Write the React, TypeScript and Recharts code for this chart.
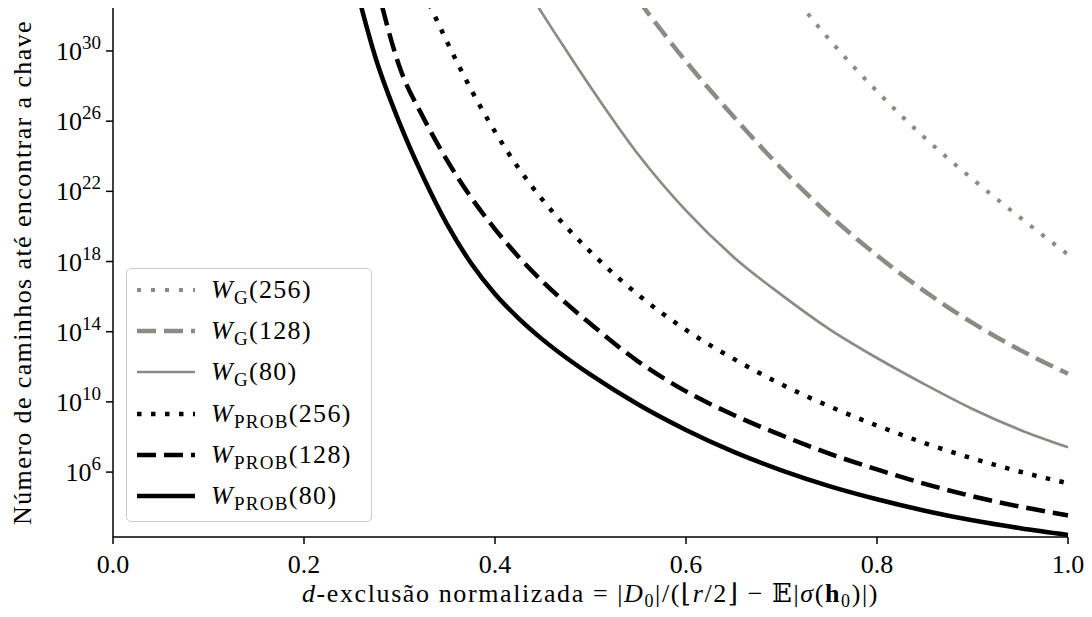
import React from 'react';
import { LineChart, Line, XAxis, YAxis, Legend } from 'recharts';

const FONT = '"Liberation Serif", "DejaVu Serif", serif';
const GRAY = '#8b8b86';

// normalised d-exclusion (x axis)
const dValues = [0.25, 0.275, 0.3, 0.325, 0.35, 0.375, 0.4, 0.425, 0.45, 0.475, 0.5, 0.55, 0.6, 0.65, 0.7, 0.75, 0.8, 0.85, 0.9, 0.95, 1.0];

// log10 of the number of paths (null = far above the top)
const expG256 = [null, null, null, null, null, null, null, null, null, null, null, null, null, null, 34.0, 30.66, 27.7, 25.05, 22.7, 20.5, 18.4];
const expG128 = [null, null, null, null, null, null, null, null, null, null, null, 32.9, 29.4, 26.25, 23.3, 20.65, 18.35, 16.3, 14.5, 12.95, 11.6];
const expG80 = [null, null, null, null, null, null, null, 34.3, 32.1, 30.0, 27.95, 24.1, 20.9, 18.25, 16.1, 14.15, 12.5, 11.0, 9.6, 8.4, 7.41];
const expProb256 = [null, null, null, 33.4, 30.5, 27.8, 25.4, 23.3, 21.5, 19.95, 18.55, 16.1, 14.1, 12.45, 11.0, 9.75, 8.65, 7.65, 6.78, 6.02, 5.36];
const expProb128 = [null, 34.0, 29.1, 26.2, 23.75, 21.65, 19.85, 18.25, 16.85, 15.6, 14.45, 12.3, 10.6, 9.25, 8.1, 7.05, 6.15, 5.33, 4.62, 4.03, 3.53];
const expProb80 = [34.6, 29.6, 25.9, 22.8, 20.1, 17.9, 16.15, 14.75, 13.55, 12.5, 11.55, 9.85, 8.4, 7.15, 6.1, 5.2, 4.45, 3.8, 3.25, 2.8, 2.42];

const xTicks = [0, 0.2, 0.4, 0.6, 0.8, 1.0];
const yTickExps = [6, 10, 14, 18, 22, 26, 30];

const series = [
  { key: 'g256', sub: 'G', n: '256', exps: expG256, color: GRAY, width: 4, dash: '4 10' },
  { key: 'g128', sub: 'G', n: '128', exps: expG128, color: GRAY, width: 4.5, dash: '19 8' },
  { key: 'g80', sub: 'G', n: '80', exps: expG80, color: GRAY, width: 2.7, dash: undefined },
  { key: 'p256', sub: 'PROB', n: '256', exps: expProb256, color: '#000', width: 4.5, dash: '4.5 9.5' },
  { key: 'p128', sub: 'PROB', n: '128', exps: expProb128, color: '#000', width: 4.5, dash: '19 8' },
  { key: 'p80', sub: 'PROB', n: '80', exps: expProb80, color: '#000', width: 4.5, dash: undefined },
];

const chartData = dValues.map((d, i) => {
  const row: any = { d };
  series.forEach(s => {
    const e = s.exps[i];
    row[s.key] = e == null ? null : Math.pow(10, e);
  });
  return row;
});

const yDomain = [Math.pow(10, 2.3), Math.pow(10, 32.45)];
const yTicks = yTickExps.map(e => Math.pow(10, e));

const textStyle = { fontFamily: FONT, fill: '#000' };

function PowerTick({ x, y, payload }: any) {
  const exp = Math.round(Math.log10(payload.value));
  return (
    <text x={x} y={y + 9} textAnchor="end" style={{ ...textStyle, fontSize: 26 }}>
      10<tspan style={{ fontSize: 19 }} dy={-11}>{exp}</tspan>
    </text>
  );
}

function DTick({ x, y, payload }: any) {
  return (
    <text x={x} y={y + 27} textAnchor="middle" style={{ ...textStyle, fontSize: 26 }}>
      {payload.value.toFixed(1)}
    </text>
  );
}

function XTitle({ viewBox }: any) {
  const cx = viewBox.x + viewBox.width / 2;
  return (
    <text x={cx} y={viewBox.y + 65} textAnchor="middle" style={{ ...textStyle, fontSize: 26, letterSpacing: 1.6 }}>
      <tspan style={{ fontStyle: 'italic' }}>d</tspan>
      <tspan>-exclusão normalizada = |</tspan>
      <tspan style={{ fontStyle: 'italic' }}>D</tspan>
      <tspan style={{ fontSize: 18 }} dy={5}>0</tspan>
      <tspan dy={-5}>|/(⌊</tspan>
      <tspan style={{ fontStyle: 'italic' }}>r</tspan>
      <tspan>/2⌋ − 𝔼|</tspan>
      <tspan style={{ fontStyle: 'italic' }}>σ</tspan>
      <tspan>(</tspan>
      <tspan style={{ fontWeight: 'bold' }}>h</tspan>
      <tspan style={{ fontSize: 18 }} dy={5}>0</tspan>
      <tspan dy={-5}>)|)</tspan>
    </text>
  );
}

function YTitle({ viewBox }: any) {
  const cy = viewBox.y + viewBox.height / 2;
  return (
    <text
      x={31}
      y={cy}
      transform={`rotate(-90, 31, ${cy})`}
      textAnchor="middle"
      style={{ ...textStyle, fontSize: 26, letterSpacing: 1.4 }}
    >
      Número de caminhos até encontrar a chave
    </text>
  );
}

function LegendBox() {
  return (
    <div
      style={{
        border: '1px solid #cccccc',
        borderRadius: 5,
        background: 'rgba(255,255,255,0.8)',
        width: 246,
        height: 254,
        boxSizing: 'border-box',
        padding: '0 0 0 10px',
        fontFamily: FONT,
        fontSize: 26,
        color: '#000',
        lineHeight: 1,
      }}
    >
      {series.map(s => (
        <div key={s.key} style={{ display: 'flex', alignItems: 'center', height: 41.3 }}>
          <svg width={58} height={12} style={{ display: 'block' }}>
            <line x1={0} y1={6} x2={58} y2={6} stroke={s.color} strokeWidth={s.width} strokeDasharray={s.dash} />
          </svg>
          <span style={{ marginLeft: 16, whiteSpace: 'nowrap', letterSpacing: 1.3 }}>
            <i>W</i>
            <span style={{ fontSize: 19, position: 'relative', top: 6 }}>{s.sub}</span>({s.n})
          </span>
        </div>
      ))}
    </div>
  );
}

export default function App() {
  return (
    <div style={{ position: 'absolute', left: 0, top: 0, width: 1092, height: 617, background: '#fff' }}>
      <LineChart width={1092} height={617} data={chartData} margin={{ top: 8, right: 24, bottom: 0, left: 0 }}>
        <XAxis
          dataKey="d"
          type="number"
          domain={[0, 1]}
          ticks={xTicks}
          height={80}
          tick={<DTick />}
          tickSize={7}
          tickMargin={2}
          axisLine={{ stroke: '#000', strokeWidth: 1.5 }}
          tickLine={{ stroke: '#000', strokeWidth: 1.5 }}
          label={{ content: XTitle }}
        />
        <XAxis xAxisId="top" orientation="top" type="number" domain={[0, 1]} height={0} tick={false} tickLine={false} axisLine={{ stroke: '#000', strokeWidth: 1.5 }} />
        <YAxis
          type="number"
          scale="log"
          domain={yDomain}
          allowDataOverflow
          ticks={yTicks}
          width={113}
          tick={<PowerTick />}
          tickSize={7}
          tickMargin={5}
          axisLine={{ stroke: '#000', strokeWidth: 1.5 }}
          tickLine={{ stroke: '#000', strokeWidth: 1.5 }}
          label={{ content: YTitle }}
        />
        <YAxis yAxisId="right" orientation="right" type="number" domain={[0, 1]} width={0} tick={false} tickLine={false} axisLine={{ stroke: '#000', strokeWidth: 1.5 }} />
        <Legend
          layout="vertical"
          align="center"
          verticalAlign="middle"
          content={LegendBox}
          wrapperStyle={{ left: 126, top: 268, width: 246, height: 254 }}
        />
        {series.map(s => (
          <Line
            key={s.key}
            dataKey={s.key}
            type="monotone"
            stroke={s.color}
            strokeWidth={s.width}
            strokeDasharray={s.dash}
            dot={false}
            activeDot={false}
            connectNulls={false}
            isAnimationActive={false}
          />
        ))}
      </LineChart>
    </div>
  );
}
